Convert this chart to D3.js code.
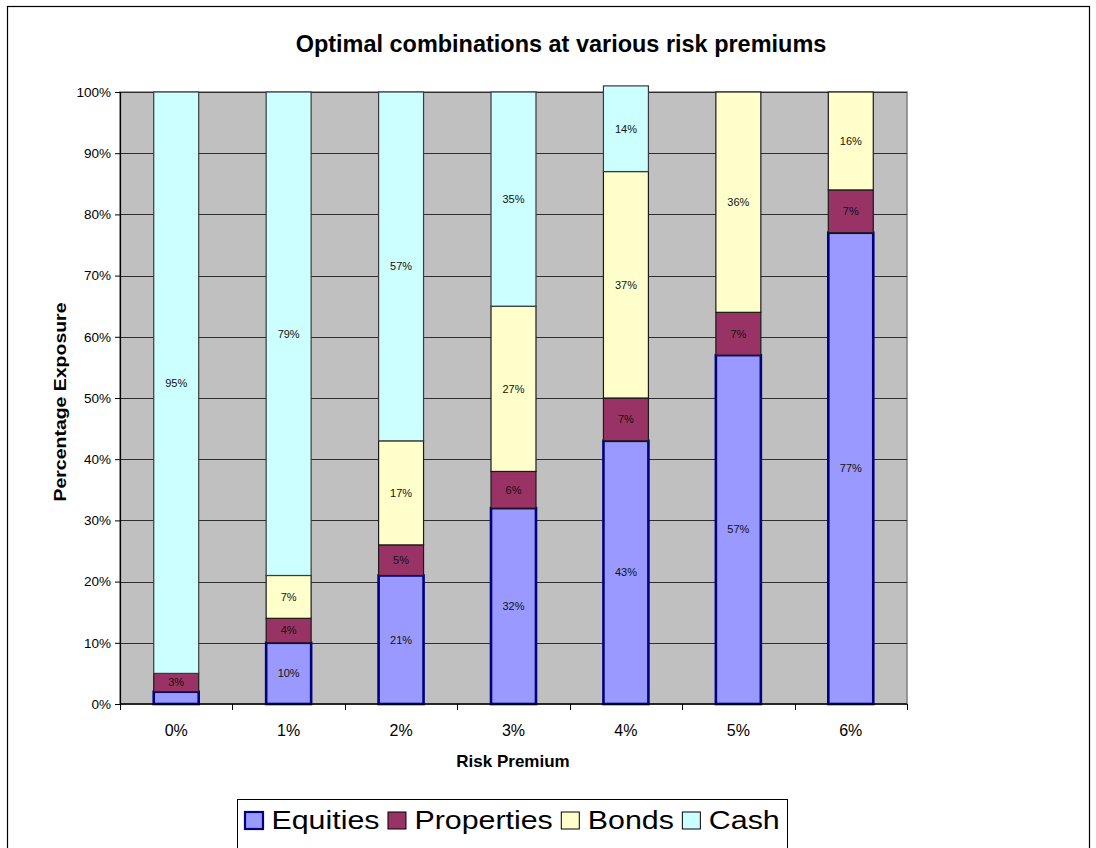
<!DOCTYPE html>
<html>
<head>
<meta charset="utf-8">
<script src="https://cdn.jsdelivr.net/npm/d3@7"></script>
<style>
  html, body { margin: 0; padding: 0; background: #fff; }
  svg { display: block; font-family: "Liberation Sans", Arial, Helvetica, sans-serif; }
</style>
</head>
<body>
<svg id="chart" width="1096" height="848"></svg>
<script>
// Risk premium categories and the stacked allocation (percent) per asset class
const categories = ["0%", "1%", "2%", "3%", "4%", "5%", "6%"];
const equities   = [2, 10, 21, 32, 43, 57, 77];
const properties = [3, 4, 5, 6, 7, 7, 7];
const bonds      = [0, 7, 17, 27, 37, 36, 16];
const cash       = [95, 79, 57, 35, 14, 0, 0];
const seriesNames = ["Equities", "Properties", "Bonds", "Cash"];
const yTicks = [0, 10, 20, 30, 40, 50, 60, 70, 80, 90, 100];

const fills   = { Equities: "#9999FF", Properties: "#993366", Bonds: "#FFFFCC", Cash: "#CCFFFF" };
const strokes = { Equities: "#000080", Properties: "#1a1a1a", Bonds: "#1a1a1a", Cash: "#3a3a3a" };
const strokeW = { Equities: 2.6, Properties: 1.2, Bonds: 1.2, Cash: 1.2 };

const svg = d3.select("#chart");

// widen a text element horizontally by a factor (glyphs stretched); returns the new width
function stretch(sel, f) {
  let out = 0;
  sel.each(function () {
    const w = this.getComputedTextLength();
    out = w * f;
    d3.select(this).attr("textLength", out).attr("lengthAdjust", "spacingAndGlyphs");
  });
  return out;
}

// outer chart frame
svg.append("rect").attr("x", 7.5).attr("y", 6.5).attr("width", 1082).attr("height", 900)
  .attr("fill", "#fff").attr("stroke", "#000").attr("stroke-width", 1.2);

const plot = { left: 120, right: 907, top: 92, bottom: 704 };

const x = d3.scaleBand().domain(categories).range([plot.left, plot.right]).padding(0);
const y = d3.scaleLinear().domain([0, 100]).range([plot.bottom, plot.top]);
const barW = x.bandwidth() * 0.4;

// plot background
svg.append("rect").attr("x", plot.left).attr("y", plot.top)
  .attr("width", plot.right - plot.left).attr("height", plot.bottom - plot.top)
  .attr("fill", "#C0C0C0").attr("stroke", "#808080").attr("stroke-width", 1.5);

// horizontal gridlines
svg.append("g").selectAll("line").data(yTicks.filter(d => d > 0)).join("line")
  .attr("x1", plot.left).attr("x2", plot.right)
  .attr("y1", d => Math.round(y(d)) + 0.5).attr("y2", d => Math.round(y(d)) + 0.5)
  .attr("stroke", "#2e2e2e").attr("stroke-width", 1);

// stacked bars
const rows = categories.map((c, i) => ({
  cat: c, Equities: equities[i], Properties: properties[i], Bonds: bonds[i], Cash: cash[i]
}));
const stacked = d3.stack().keys(seriesNames)(rows);

const barsG = svg.append("g");
stacked.forEach(layer => {
  const key = layer.key;
  barsG.append("g").selectAll("rect").data(layer.filter(d => d[1] - d[0] > 0)).join("rect")
    .attr("x", d => x(d.data.cat) + (x.bandwidth() - barW) / 2)
    .attr("y", d => y(d[1]))
    .attr("width", barW)
    .attr("height", d => y(d[0]) - y(d[1]))
    .attr("fill", fills[key])
    .attr("stroke", strokes[key])
    .attr("stroke-width", strokeW[key]);
});

// value labels inside segments
stacked.forEach(layer => {
  barsG.append("g").selectAll("text").data(layer.filter(d => d[1] - d[0] >= 3)).join("text")
    .attr("x", d => x(d.data.cat) + x.bandwidth() / 2)
    .attr("y", d => (y(d[0]) + y(d[1])) / 2)
    .attr("dy", "0.35em")
    .attr("text-anchor", "middle")
    .attr("font-size", 11)
    .attr("fill", "#111")
    .text(d => (d[1] - d[0]) + "%");
});

// y axis
const yAxis = d3.axisLeft(y).tickValues(yTicks).tickFormat(d => d + "%").tickSize(5).tickPadding(4);
const yg = svg.append("g").attr("transform", `translate(${plot.left},0)`).call(yAxis);
yg.select(".domain").attr("stroke", "#000").attr("stroke-width", 1.2);
yg.selectAll(".tick line").attr("stroke", "#000");
yg.selectAll(".tick text").attr("font-size", 13.5).attr("font-family", "Liberation Sans, Arial, sans-serif").attr("fill", "#000");

// x axis: baseline, boundary ticks, category labels
svg.append("line").attr("x1", plot.left).attr("x2", plot.right)
  .attr("y1", plot.bottom).attr("y2", plot.bottom).attr("stroke", "#000").attr("stroke-width", 1.5);
const bounds = categories.map(c => x(c)).concat([plot.right]);
svg.append("g").selectAll("line").data(bounds).join("line")
  .attr("x1", d => Math.round(d) + 0.5).attr("x2", d => Math.round(d) + 0.5)
  .attr("y1", plot.bottom).attr("y2", plot.bottom + 6).attr("stroke", "#000");
svg.append("g").selectAll("text").data(categories).join("text")
  .attr("x", d => x(d) + x.bandwidth() / 2).attr("y", 736)
  .attr("text-anchor", "middle").attr("font-size", 16).attr("fill", "#000").text(d => d);

// titles
stretch(svg.append("text").attr("x", 561).attr("y", 52).attr("text-anchor", "middle")
  .attr("font-size", 23).attr("font-weight", "bold").text("Optimal combinations at various risk premiums"), 1.02);
svg.append("text").attr("x", 513).attr("y", 767).attr("text-anchor", "middle")
  .attr("font-size", 17).attr("font-weight", "bold").text("Risk Premium");
svg.append("text").attr("transform", "translate(66,402) rotate(-90)").attr("text-anchor", "middle")
  .attr("font-size", 17).attr("font-weight", "bold").attr("textLength", 199).attr("lengthAdjust", "spacingAndGlyphs")
  .text("Percentage Exposure");

// legend
const legend = svg.append("g");
legend.append("rect").attr("x", 237.5).attr("y", 799.5).attr("width", 550).attr("height", 80)
  .attr("fill", "#fff").attr("stroke", "#000").attr("stroke-width", 1);
let lx = 245;
const ly = 821;
const sw = 18, gap = 8.5;
seriesNames.forEach(name => {
  legend.append("rect").attr("x", lx).attr("y", ly - sw / 2).attr("width", sw).attr("height", sw - 1)
    .attr("fill", fills[name]).attr("stroke", name === "Equities" ? "#000080" : "#000")
    .attr("stroke-width", name === "Equities" ? 2.2 : 1);
  const t = legend.append("text").attr("x", lx + sw + gap).attr("y", 829)
    .attr("font-size", 25.5).attr("fill", "#000").text(name);
  const w = stretch(t, 1.19);
  lx += sw + gap + w + gap;
});
</script>
</body>
</html>
